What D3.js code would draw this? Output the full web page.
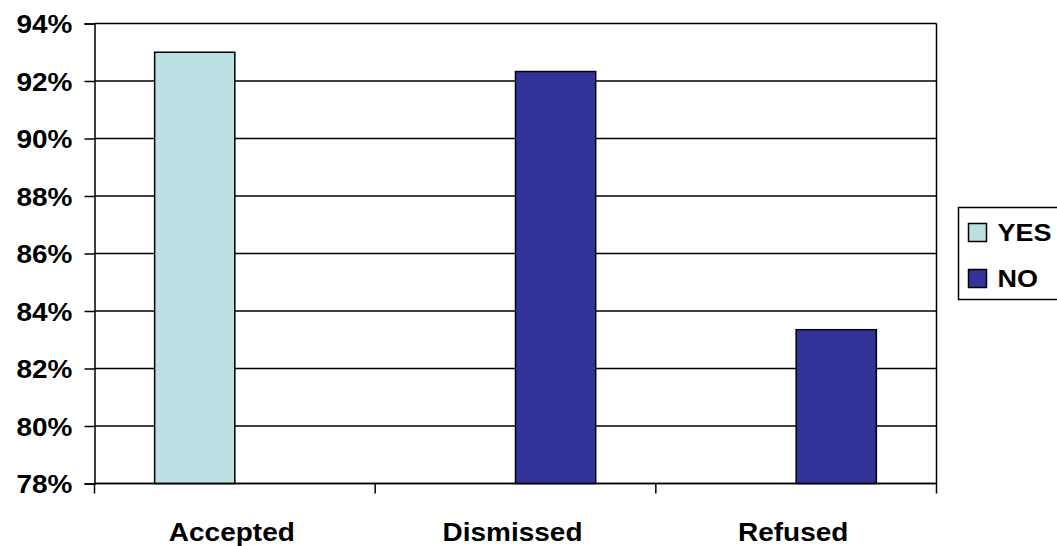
<!DOCTYPE html>
<html>
<head>
<meta charset="utf-8">
<script src="https://cdn.jsdelivr.net/npm/d3@7"></script>
<style>
  html, body { margin: 0; padding: 0; background: #fff; }
  svg text { font-family: "Liberation Sans", Arial, sans-serif; font-weight: bold; fill: #000; }
</style>
</head>
<body>
<svg id="chart" width="1057" height="546"></svg>
<script>
// Outcome categories and the share for each answer (null = below the axis floor)
const categories = ["Accepted", "Dismissed", "Refused"];
const seriesNames = ["YES", "NO"];
const yesValues = [93.0, null, null];
const noValues = [null, 92.33, 83.35];
const yTicks = [78, 80, 82, 84, 86, 88, 90, 92, 94];
const colors = { YES: "#BBE0E3", NO: "#333399" };

// Labels are drawn slightly condensed vertically
const textSquash = "scale(1,0.9)";

const svg = d3.select("#chart");
const margin = { left: 94.5, top: 23.5 };
const plotW = 936.5 - margin.left;
const plotH = 483.5 - margin.top;

const g = svg.append("g").attr("transform", `translate(${margin.left},${margin.top})`);

const x0 = d3.scaleBand().domain(categories).range([0, plotW]).paddingInner(0).paddingOuter(0);
const x1 = d3.scaleBand().domain(seriesNames).range([0, x0.bandwidth()]).paddingInner(0).paddingOuter(0.75);
const y = d3.scaleLinear().domain([78, 94]).range([plotH, 0]);

// Horizontal gridlines
g.append("g")
  .selectAll("line")
  .data(yTicks)
  .join("line")
  .attr("x1", 0).attr("x2", plotW)
  .attr("y1", d => y(d)).attr("y2", d => y(d))
  .attr("stroke", "#000").attr("stroke-width", 1.5);

// Right border of plot area
g.append("line")
  .attr("x1", plotW).attr("x2", plotW).attr("y1", 0).attr("y2", plotH)
  .attr("stroke", "#000").attr("stroke-width", 1.5);

// Bars
const rows = categories.map((c, i) => ({ cat: c, vals: [
  { key: "YES", v: yesValues[i] }, { key: "NO", v: noValues[i] } ] }));

g.append("g")
  .selectAll("g")
  .data(rows)
  .join("g")
  .attr("transform", d => `translate(${x0(d.cat)},0)`)
  .selectAll("rect")
  .data(d => d.vals.filter(v => v.v !== null))
  .join("rect")
  .attr("x", d => x1(d.key))
  .attr("width", x1.bandwidth())
  .attr("y", d => y(d.v))
  .attr("height", d => plotH - y(d.v))
  .attr("fill", d => colors[d.key])
  .attr("stroke", "#000").attr("stroke-width", 1.5);

// Y axis
const yAxis = g.append("g")
  .call(d3.axisLeft(y).tickValues(yTicks).tickFormat(d => d + "%").tickSize(10).tickPadding(12));
yAxis.select(".domain").attr("stroke", "#000").attr("stroke-width", 1.5);
yAxis.selectAll(".tick line").attr("stroke", "#000").attr("stroke-width", 1.5);
yAxis.selectAll(".tick text").attr("font-size", 28).attr("font-family", null)
  .attr("dy", "0.36em").attr("transform", textSquash);

// X axis with ticks at category boundaries
const xAxis = g.append("g").attr("transform", `translate(0,${plotH})`);
xAxis.append("line").attr("x1", 0).attr("x2", plotW).attr("stroke", "#000").attr("stroke-width", 1.5);
const bounds = categories.map(c => x0(c)).concat([plotW]);
xAxis.selectAll("line.tk").data(bounds).join("line").attr("class", "tk")
  .attr("x1", d => d).attr("x2", d => d).attr("y1", 0).attr("y2", 10)
  .attr("stroke", "#000").attr("stroke-width", 1.5);
xAxis.selectAll("g.lbl").data(categories).join("g").attr("class", "lbl")
  .attr("transform", d => `translate(${x0(d) + x0.bandwidth() / 2 - 3},57.5)`)
  .append("text")
  .attr("text-anchor", "middle")
  .attr("font-size", 28)
  .attr("transform", textSquash)
  .text(d => d);

// Legend
const lg = svg.append("g").attr("transform", "translate(958.5,207.5)");
lg.append("rect").attr("width", 110).attr("height", 92)
  .attr("fill", "#fff").attr("stroke", "#000").attr("stroke-width", 1.5);
lg.selectAll("g.item").data(seriesNames).join("g").attr("class", "item")
  .attr("transform", (d, i) => `translate(0,${25 + i * 46})`)
  .each(function (d) {
    const it = d3.select(this);
    it.append("rect").attr("x", 10).attr("y", -9).attr("width", 18).attr("height", 18)
      .attr("fill", colors[d]).attr("stroke", "#000").attr("stroke-width", 1.5);
    it.append("text").attr("x", 39).attr("y", 0).attr("dy", "0.36em")
      .attr("font-size", 27).attr("transform", textSquash).text(d);
  });
</script>
</body>
</html>
